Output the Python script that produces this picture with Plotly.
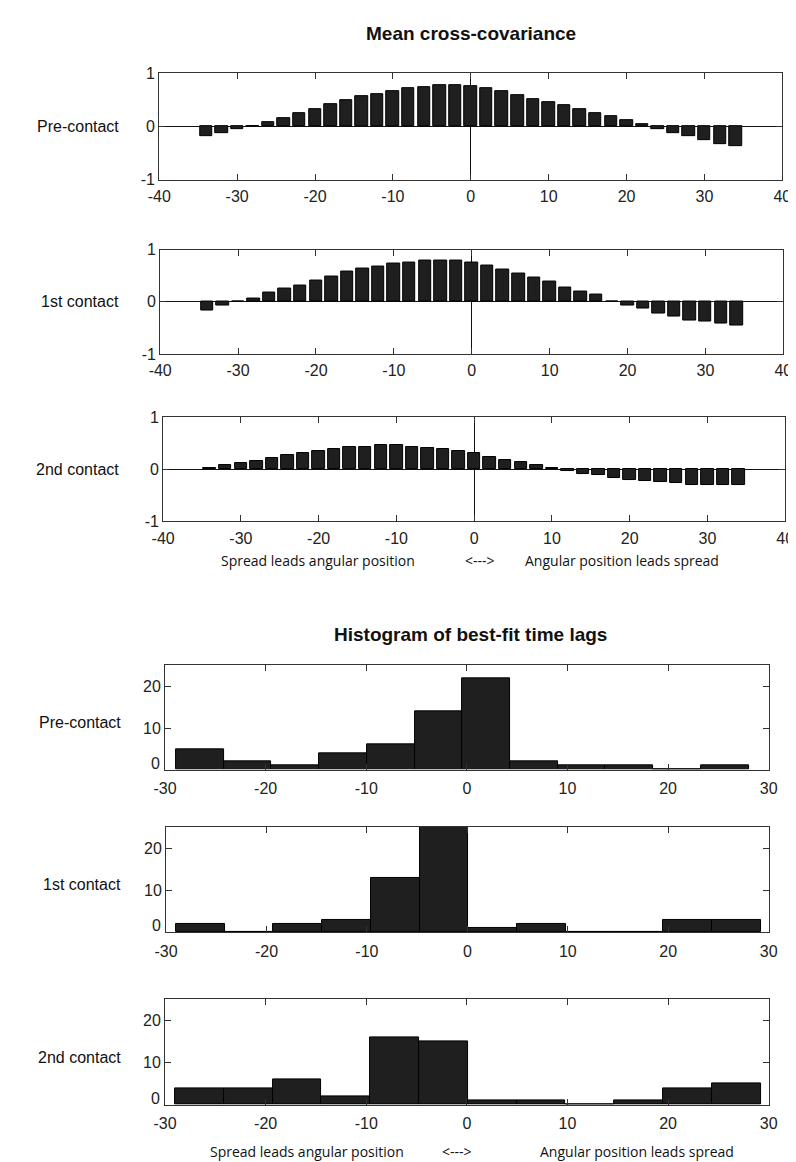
import numpy as np
import plotly.graph_objects as go

W, H = 796, 1162

# ---------------- data ----------------
lags = [-34, -32, -30, -28, -26, -24, -22, -20, -18, -16, -14, -12, -10, -8, -6, -4, -2,
        0, 2, 4, 6, 8, 10, 12, 14, 16, 18, 20, 22, 24, 26, 28, 30, 32, 34]

cov_pre = [-0.19, -0.125, -0.05, 0.0, 0.08, 0.16, 0.24, 0.33, 0.41, 0.49, 0.57, 0.61, 0.66,
           0.72, 0.74, 0.77, 0.77, 0.76, 0.72, 0.66, 0.58, 0.52, 0.46, 0.39, 0.32, 0.24,
           0.19, 0.12, 0.04, -0.06, -0.13, -0.18, -0.26, -0.33, -0.38]
cov_1st = [-0.16, -0.08, 0.0, 0.06, 0.17, 0.25, 0.32, 0.41, 0.49, 0.57, 0.63, 0.67, 0.73,
           0.75, 0.78, 0.78, 0.78, 0.75, 0.69, 0.62, 0.54, 0.46, 0.39, 0.28, 0.20, 0.13,
           0.0, -0.08, -0.13, -0.22, -0.28, -0.35, -0.38, -0.42, -0.45]
cov_2nd = [0.03, 0.08, 0.11, 0.16, 0.22, 0.27, 0.31, 0.35, 0.38, 0.43, 0.43, 0.46, 0.46,
           0.43, 0.41, 0.38, 0.35, 0.31, 0.24, 0.18, 0.13, 0.09, 0.03, -0.04, -0.09, -0.11,
           -0.17, -0.20, -0.23, -0.24, -0.27, -0.31, -0.30, -0.31, -0.31]

hist_pre = [5, 2, 1, 4, 6, 14, 22, 2, 1, 1, 0, 1]
hist_1st = [2, 0, 2, 3, 13, 30, 1, 2, 0, 0, 3, 3]
hist_2nd = [4, 4, 6, 2, 16, 15, 1, 1, 0, 1, 4, 5]
hist_range_pre = (-28.9, 28.0)
hist_range_1st = (-29.0, 29.2)
hist_range_2nd = (-29.0, 29.2)

row_labels = ["Pre-contact", "1st contact", "2nd contact"]
cov_ticks = [-40, -30, -20, -10, 0, 10, 20, 30, 40]
cov_ytick = [-1, 0, 1]
hist_ticks = [-30, -20, -10, 0, 10, 20, 30]
hist_ytick = [0, 10, 20]

# ---------------- layout helpers ----------------
def px(x0, x1):
    return [x0 / W, x1 / W]

def py(y0, y1):  # y0 top pixel, y1 bottom pixel
    return [1 - y1 / H, 1 - y0 / H]

def labels(vals):
    return [str(v) for v in vals]  # plain hyphen-minus like the original

cov_boxes = [((143, 783), (58, 166)), ((144, 784), (237, 343)), ((147, 786), (407, 513))]
hist_boxes = [((149, 769), (659, 765)), ((150, 769), (823, 930)), ((149, 769), (998, 1105))]

FONT = "Liberation Sans, Arial, sans-serif"
TICKFONT = dict(family=FONT, size=16, color="#222")
BARFILL = "#1f1f1f"
AXC = "#333"

fig = go.Figure()
layout = dict(width=W, height=H, margin=dict(l=0, r=0, t=0, b=0),
              paper_bgcolor="white", plot_bgcolor="white", showlegend=False,
              font=dict(family=FONT, color="#222"))
annotations = []

def axis_common():
    return dict(showline=True, linecolor=AXC, linewidth=1, mirror="allticks",
                ticks="inside", ticklen=6, tickcolor=AXC, tickwidth=1,
                showgrid=False, tickfont=TICKFONT)

idx = 1
for (xr, yr), vals, lab in zip(cov_boxes, [cov_pre, cov_1st, cov_2nd], row_labels):
    xa = "x" if idx == 1 else f"x{idx}"
    ya = "y" if idx == 1 else f"y{idx}"
    fig.add_trace(go.Bar(x=lags, y=vals, width=1.6, xaxis=xa, yaxis=ya,
                         marker=dict(color=BARFILL, line=dict(color="#000", width=1))))
    layout[f"xaxis{'' if idx == 1 else idx}"] = dict(
        axis_common(), domain=px(*xr), range=[-40, 40], tickvals=cov_ticks,
        ticktext=labels(cov_ticks), ticklabelstandoff=2,
        anchor=ya, zeroline=True, zerolinecolor="#111", zerolinewidth=1)
    layout[f"yaxis{'' if idx == 1 else idx}"] = dict(
        axis_common(), domain=py(*yr), range=[-1, 1], tickvals=cov_ytick,
        ticktext=labels(cov_ytick),
        anchor=xa, zeroline=True, zerolinecolor="#111", zerolinewidth=1)
    annotations.append(dict(text=lab, x=104 / W, y=1 - ((yr[0] + yr[1]) / 2) / H,
                            xref="paper", yref="paper", xanchor="right", yanchor="middle",
                            showarrow=False, font=dict(family=FONT, size=16, color="#111")))
    idx += 1

for (xr, yr), counts, rng, lab in zip(hist_boxes, [hist_pre, hist_1st, hist_2nd],
                                      [hist_range_pre, hist_range_1st, hist_range_2nd],
                                      row_labels):
    xa = f"x{idx}"
    ya = f"y{idx}"
    edges = np.linspace(rng[0], rng[1], len(counts) + 1)
    centers = (edges[:-1] + edges[1:]) / 2
    bw = edges[1] - edges[0]
    fig.add_trace(go.Bar(x=centers, y=counts, width=bw, xaxis=xa, yaxis=ya,
                         marker=dict(color=BARFILL, line=dict(color="#000", width=1))))
    layout[f"xaxis{idx}"] = dict(axis_common(), domain=px(*xr), range=[-30, 30],
                                 tickvals=hist_ticks, ticktext=labels(hist_ticks),
                                 ticklabelstandoff=4, anchor=ya, zeroline=False)
    # the bottom "0" label sits just above the corner (drawn as annotation below)
    ytext = ["" if v == 0 else str(v) for v in hist_ytick]
    layout[f"yaxis{idx}"] = dict(axis_common(), domain=py(*yr), range=[0, 25],
                                 tickvals=hist_ytick, ticktext=ytext,
                                 anchor=xa, zeroline=False)
    annotations.append(dict(text=str(hist_ytick[0]), x=(xr[0] - 3) / W, y=hist_ytick[0],
                            xref="paper", yref=ya, xanchor="right", yanchor="bottom",
                            yshift=-4, showarrow=False, font=TICKFONT))
    annotations.append(dict(text=lab, x=106 / W, y=1 - (yr[0] + 0.55 * (yr[1] - yr[0])) / H,
                            xref="paper", yref="paper", xanchor="right", yanchor="middle",
                            showarrow=False, font=dict(family=FONT, size=16, color="#111")))
    idx += 1

# titles
annotations.append(dict(text="<b>Mean cross-covariance</b>", x=463 / W, y=1 - 18 / H,
                        xref="paper", yref="paper", xanchor="center", yanchor="middle",
                        showarrow=False, font=dict(family=FONT, size=19, color="#111")))
annotations.append(dict(text="<b>Histogram of best-fit time lags</b>", x=463 / W, y=1 - 628 / H,
                        xref="paper", yref="paper", xanchor="center", yanchor="middle",
                        showarrow=False, font=dict(family=FONT, size=19, color="#111")))

# captions
CAPFONT = dict(family="Open Sans, DejaVu Sans, sans-serif", size=14, color="#111")
for (x_left, x_arrow, x_right, ycap) in [(204, 472, 720, 553), (193, 449, 735, 1152)]:
    annotations.append(dict(text="Spread leads angular position", x=x_left / W, y=1 - ycap / H,
                            xref="paper", yref="paper", xanchor="left", yanchor="middle",
                            showarrow=False, font=CAPFONT))
    annotations.append(dict(text="<--->", x=x_arrow / W, y=1 - ycap / H,
                            xref="paper", yref="paper", xanchor="center", yanchor="middle",
                            showarrow=False, font=CAPFONT))
    annotations.append(dict(text="Angular position leads spread", x=x_right / W, y=1 - ycap / H,
                            xref="paper", yref="paper", xanchor="right", yanchor="middle",
                            showarrow=False, font=CAPFONT))

layout["annotations"] = annotations
layout["bargap"] = 0
fig.update_layout(**layout)
fig.write_html("out.html")
